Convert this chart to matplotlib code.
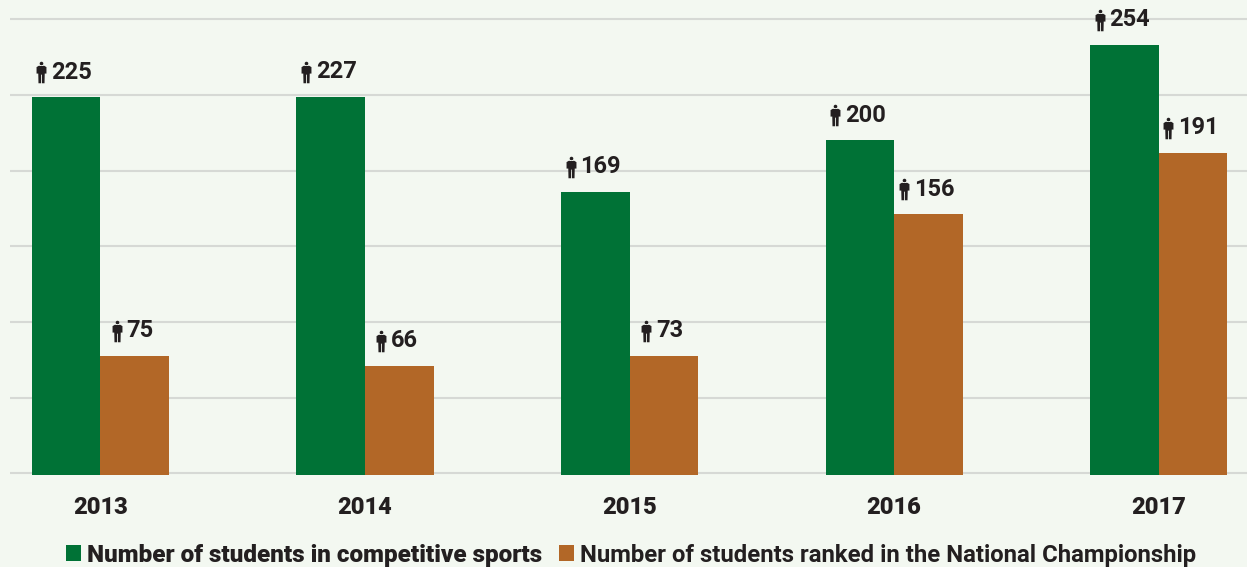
import matplotlib
matplotlib.use("Agg")
import matplotlib.pyplot as plt
from matplotlib.path import Path
from matplotlib.transforms import IdentityTransform
import numpy as np

years = ["2013", "2014", "2015", "2016", "2017"]
# numbers printed above the bars
competitive_labels = [225, 227, 169, 200, 254]
ranked_labels = [75, 66, 73, 156, 191]
# bar heights as read against the gridlines (a few differ from the printed number)
competitive_heights = [223.4, 223.9, 167.4, 197.9, 254.9]
ranked_heights = [69.9, 63.9, 69.9, 153.9, 190.6]
grid_values = [0, 45, 90, 135, 180, 225, 270]
legend_names = ["Number of students in competitive sports",
                "Number of students ranked in the National Championship"]

GREEN = "#007236"
ORANGE = "#b26727"
BG = "#f3f8f1"
INK = "#231f20"

plt.rcParams["font.family"] = ["Roboto", "DejaVu Sans"]

# person icon: head plus body, unit coordinates
body = Path(
    [(-0.26, 0.62), (0.26, 0.62), (0.46, 0.50), (0.46, -0.10), (0.30, -0.10),
     (0.28, -1.0), (0.04, -1.0), (0.04, -0.2), (-0.04, -0.2), (-0.04, -1.0),
     (-0.28, -1.0), (-0.30, -0.10), (-0.46, -0.10), (-0.46, 0.50), (-0.26, 0.62)],
    closed=True,
)
person = Path.make_compound_path(Path.circle((0, 0.83), 0.17), body)

fig = plt.figure(figsize=(12.47, 5.67), dpi=100, facecolor=BG)
# axes reach a little below the zero line so the baseline is not clipped
ax = fig.add_axes([10 / 1247, 88 / 567, 1237 / 1247, 479 / 567], facecolor=BG)

x = np.arange(len(years))
width = 0.259
base = -0.8
bars1 = ax.bar(x - width / 2, np.array(competitive_heights) - base, width, bottom=base,
               color=GREEN, zorder=3, label=legend_names[0])
bars2 = ax.bar(x + width / 2, np.array(ranked_heights) - base, width, bottom=base,
               color=ORANGE, zorder=3, label=legend_names[1])

ax.set_xlim(-0.342, 4.334)
ax.set_ylim(-3.39, 281.36)
ax.set_yticks(grid_values)
ax.set_yticklabels([])
ax.set_xticks(x)
ax.set_xticklabels(years, fontsize=17, fontweight="black", color=INK)
ax.tick_params(axis="both", length=0)
ax.tick_params(axis="x", pad=12.5)
ax.grid(axis="y", color="#d6d9d5", linewidth=1.5, zorder=0)
ax.set_axisbelow(True)
for s in ax.spines.values():
    s.set_visible(False)

# value labels with the icon in front of them
renderer = fig.canvas.get_renderer()
for bars, labels in ((bars1, competitive_labels), (bars2, ranked_labels)):
    for bar, value in zip(bars, labels):
        cx = bar.get_x() + bar.get_width() / 2
        t = ax.annotate(str(value), (cx, bar.get_y() + bar.get_height()),
                        xytext=(5.5 * 0.72, 25 * 0.72),
                        textcoords="offset points", ha="center", va="center",
                        fontsize=17, fontweight="semibold", color=INK, zorder=4,
                        annotation_clip=False)
        box = t.get_window_extent(renderer)
        ax.plot([box.x0 - 10], [(box.y0 + box.y1) / 2], transform=IdentityTransform(),
                marker=person, markersize=15.5, color=INK, markeredgewidth=0,
                zorder=4, clip_on=False)

leg = fig.legend(handles=[bars1, bars2], labels=legend_names, loc="lower left",
                 bbox_to_anchor=(64 / 1247, -2 / 567), borderaxespad=0, borderpad=0.1, ncol=2,
                 frameon=False, prop={"size": 17.3, "weight": "bold"}, labelcolor=INK,
                 handlelength=0.6, handleheight=0.6, handletextpad=0.25,
                 columnspacing=0.72)
leg.get_texts()[0].set_fontweight("black")
leg.get_texts()[0].set_fontsize(17.45)
leg.get_texts()[1].set_fontsize(17.2)

fig.savefig("out.png", dpi=100, facecolor=BG)
